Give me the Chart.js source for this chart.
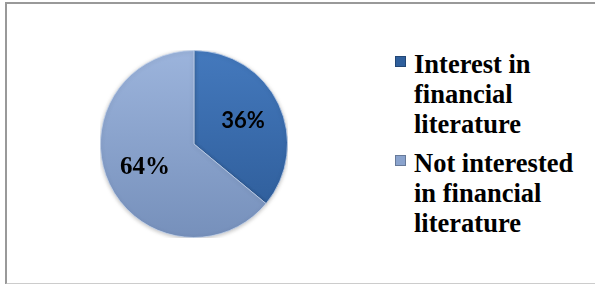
<!DOCTYPE html>
<html>
<head>
<meta charset="utf-8">
<script src="https://cdn.jsdelivr.net/npm/chart.js@4"></script>
<style>
    body { margin: 0; background: #fff; }
    #wrap { position: relative; width: 595px; height: 284px; overflow: hidden; }
    #frame { position: absolute; left: 5px; top: 2px; width: 600px; height: 279px;
             border-left: 2px solid #999; border-top: 2px solid #999; border-bottom: 2px solid #ccc; }
    #pieBox { position: absolute; left: 100px; top: 50px; width: 188px; height: 188px; }
    #legend { position: absolute; left: 395px; top: 49px;
              font-family: "Liberation Serif", "Times New Roman", serif;
              font-weight: bold; font-size: 26.5px; line-height: 30px; color: #000; }
    .item { position: relative; padding-left: 19px; margin-bottom: 9px; }
    .box { position: absolute; left: 0; top: 7px; width: 9px; height: 9px; border: 1px solid rgba(0,0,0,0.25); }
</style>
</head>
<body>
<div id="wrap">
    <div id="frame"></div>
    <div id="pieBox"><canvas id="chartCanvas"></canvas></div>
    <div id="legend"></div>
</div>
<script>
const categories = ["Interest in financial literature", "Not interested in financial literature"];
const legendLines = [["Interest in", "financial", "literature"], ["Not interested", "in financial", "literature"]];
const values = [36, 64];
const sliceColors = [["#4479bd", "#2c5a96"], ["#9cb4dc", "#7690bb"]];
const legendColors = ["#2f5f9c", "#8aa3cd"];

// Legend en HTML
const legend = document.getElementById("legend");
legendLines.forEach((lines, i) => {
    const item = document.createElement("div");
    item.className = "item";
    const box = document.createElement("span");
    box.className = "box";
    box.style.background = legendColors[i];
    item.appendChild(box);
    item.insertAdjacentHTML("beforeend", lines.join("<br>"));
    legend.appendChild(item);
});

// Etiquetas de porcentaje
const pctLabels = {
    id: "pctLabels",
    afterDatasetsDraw(chart) {
        const ctx = chart.ctx;
        const meta = chart.getDatasetMeta(0);
        const fonts = ['bold 22px Lato, "Open Sans", sans-serif',
                       'bold 25px "Liberation Serif", "Times New Roman", serif'];
        meta.data.forEach((arc, i) => {
            const mid = (arc.startAngle + arc.endAngle) / 2;
            const r = arc.outerRadius * 0.58;
            ctx.save();
            ctx.font = fonts[i];
            ctx.fillStyle = "#000";
            ctx.textAlign = "center";
            ctx.textBaseline = "middle";
            ctx.fillText(values[i] + "%", arc.x + Math.cos(mid) * r, arc.y + Math.sin(mid) * r);
            ctx.restore();
        });
    }
};

// Sombra suave
const pieShadow = {
    id: "pieShadow",
    beforeDatasetsDraw(chart) {
        chart.ctx.save();
        chart.ctx.shadowColor = "rgba(0,0,0,0.25)";
        chart.ctx.shadowBlur = 4;
        chart.ctx.shadowOffsetY = 1;
    },
    afterDatasetsDraw(chart) {
        chart.ctx.restore();
    }
};

function sliceFill(context) {
    const chart = context.chart;
    const area = chart.chartArea;
    if (!area) return sliceColors[context.dataIndex][0];
    const c = sliceColors[context.dataIndex];
    const g = chart.ctx.createLinearGradient(0, area.top, 0, area.bottom);
    g.addColorStop(0, c[0]);
    g.addColorStop(1, c[1]);
    return g;
}

new Chart(document.getElementById("chartCanvas"), {
    type: "pie",
    data: {
        labels: categories,
        datasets: [{
            data: values,
            backgroundColor: sliceFill,
            borderColor: "rgba(200,215,240,0.7)",
            borderWidth: 1
        }]
    },
    options: {
        responsive: true,
        maintainAspectRatio: false,
        animation: false,
        layout: { padding: 0 },
        plugins: {
            legend: { display: false },
            tooltip: { enabled: false }
        }
    },
    plugins: [pieShadow, pctLabels]
});
</script>
</body>
</html>
